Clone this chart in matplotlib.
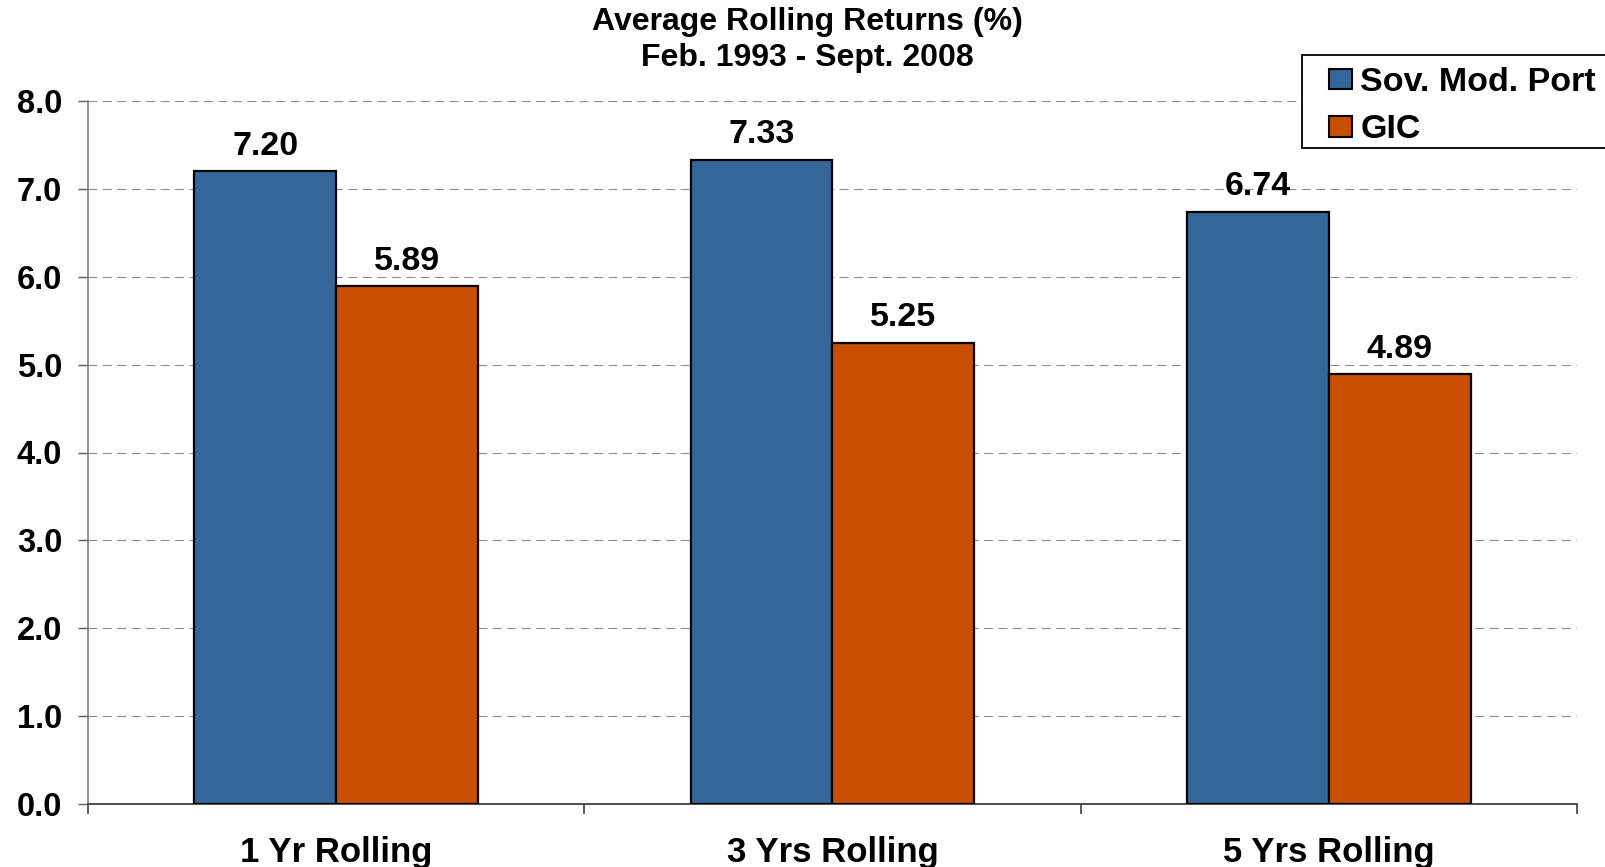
import matplotlib
matplotlib.use("Agg")
import matplotlib.pyplot as plt
from matplotlib.patches import Rectangle
import numpy as np

plt.rcParams['font.family'] = ['Liberation Sans', 'DejaVu Sans']
plt.rcParams['font.weight'] = 'bold'

categories = ["1 Yr Rolling", "3 Yrs Rolling", "5 Yrs Rolling"]
series_names = ["Sov. Mod. Port", "GIC"]
sov_mod_port = [7.20, 7.33, 6.74]
gic = [5.89, 5.25, 4.89]
y_ticks = [0.0, 1.0, 2.0, 3.0, 4.0, 5.0, 6.0, 7.0, 8.0]
title_lines = ["Average Rolling Returns (%)", "Feb. 1993 - Sept. 2008"]

BLUE = "#336699"
ORANGE = "#C94F00"

W, H = 1606, 867
fig = plt.figure(figsize=(W / 100, H / 100), dpi=100)

# axes box in pixel terms
left, right, bottom, top = 88, 1577, 804, 101
ax = fig.add_axes([left / W, 1 - bottom / H, (right - left) / W, (bottom - top) / H])

x = np.arange(len(categories)) + 0.5
bw = 0.286

ax.set_axisbelow(True)
ax.yaxis.grid(True, color="#8c8c8c", linewidth=0.8, linestyle=(0, (8, 5)))
ax.xaxis.grid(False)

bars1 = ax.bar(x - bw / 2, sov_mod_port, width=bw, color=BLUE, edgecolor="black",
               linewidth=1.6, label=series_names[0], zorder=3)
bars2 = ax.bar(x + bw / 2, gic, width=bw, color=ORANGE, edgecolor="black",
               linewidth=1.6, label=series_names[1], zorder=3)

for bars, vals in ((bars1, sov_mod_port), (bars2, gic)):
    for b, v in zip(bars, vals):
        ax.annotate(f"{v:.2f}", (b.get_x() + b.get_width() / 2, v),
                    xytext=(0, 12), textcoords="offset points",
                    ha="center", va="baseline", fontsize=24.5, fontweight="bold",
                    zorder=4)

ax.set_xlim(0, len(categories))
ax.set_ylim(0, 8)

# category labels at the centres, tick marks at the boundaries
ax.set_xticks(x)
ax.set_xticklabels(categories, fontsize=25, fontweight="bold")
ax.tick_params(axis="x", which="major", length=0, pad=23)
ax.set_xticks(np.arange(len(categories) + 1), minor=True)
ax.tick_params(axis="x", which="minor", length=7.5, width=1.2, color="#404040",
               direction="out")

ax.set_yticks(y_ticks)
ax.set_yticklabels([f"{t:.1f}" for t in y_ticks], fontsize=23.5, fontweight="bold")
ax.tick_params(axis="y", length=7.5, width=1.0, color="#606060", pad=11)

for s in ("top", "right"):
    ax.spines[s].set_visible(False)
ax.spines["left"].set_color("#808080")
ax.spines["left"].set_linewidth(1.2)
ax.spines["bottom"].set_color("#404040")
ax.spines["bottom"].set_linewidth(1.3)

# legend box: white frame running off the right edge of the figure
fig.patches.append(Rectangle((1302 / W, 1 - 148 / H), (1640 - 1302) / W, (148 - 55) / H,
                             transform=fig.transFigure, facecolor="white",
                             edgecolor="black", linewidth=1.3, zorder=5))
leg = fig.legend(handles=[bars1, bars2], labels=series_names,
                 loc="upper left", bbox_to_anchor=(1329 / W, 1 - 67 / H),
                 bbox_transform=fig.transFigure, borderaxespad=0,
                 prop={"weight": "bold", "size": 24.5},
                 handlelength=0.67, handleheight=0.57, handletextpad=0.25,
                 labelspacing=0.48, borderpad=0, frameon=False)
leg.set_zorder(6)
for hnd in leg.legend_handles:
    hnd.set_linewidth(1.5)

fig.text(807 / W, 1 - 30 / H, title_lines[0], ha="center", va="baseline",
         fontsize=23, fontweight="bold")
fig.text(807 / W, 1 - 66 / H, title_lines[1], ha="center", va="baseline",
         fontsize=23, fontweight="bold")

fig.savefig("out.png", dpi=100)
